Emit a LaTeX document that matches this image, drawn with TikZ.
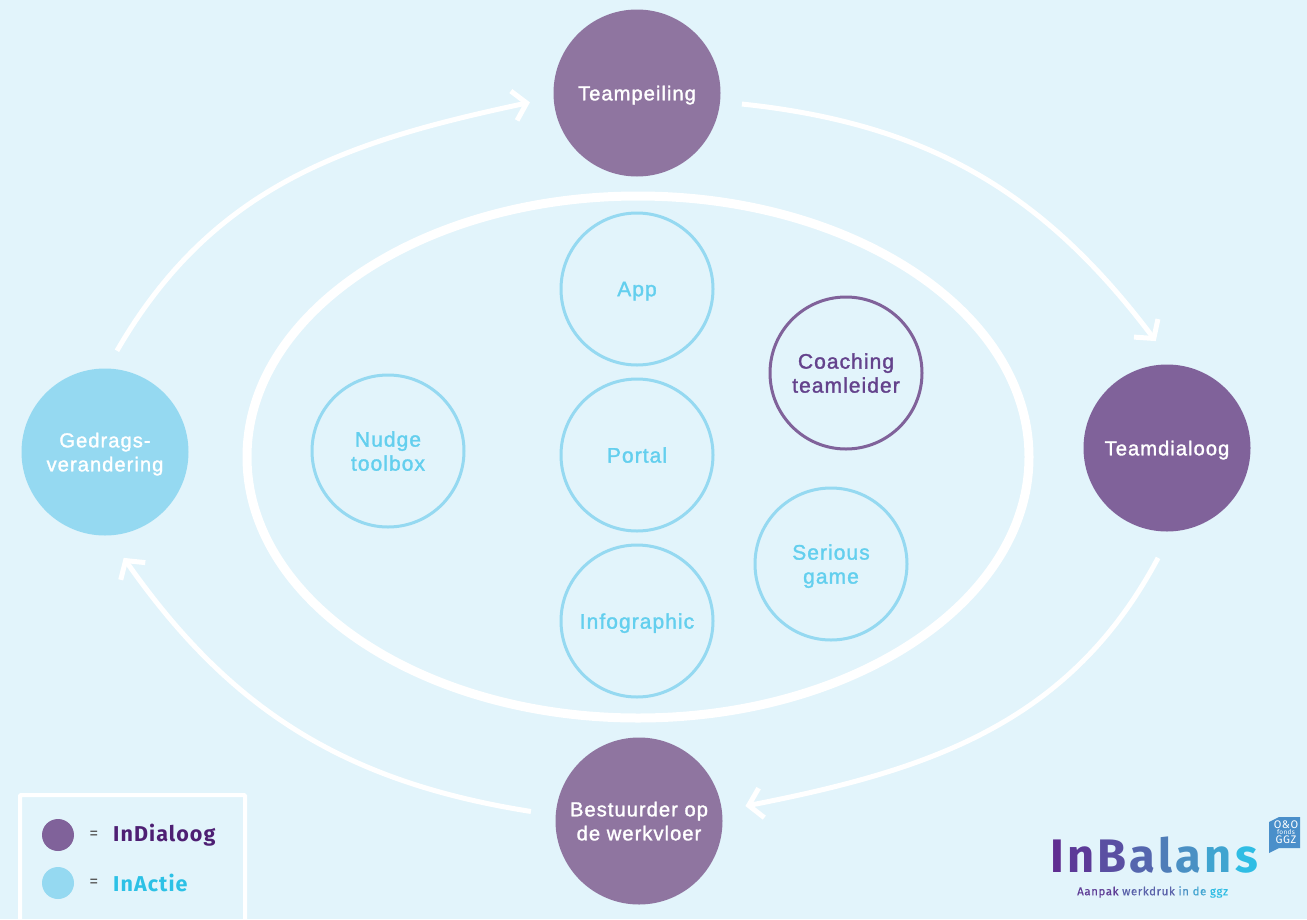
\documentclass[tikz,border=0pt]{standalone}
\usepackage{fontspec}
\setmainfont[FakeBold=1.5,LetterSpace=5]{Liberation Sans}
\newfontfamily\logofont[LetterSpace=5]{Fira Sans}
\newfontfamily\kleinfont[LetterSpace=5,FakeBold=0.3]{Fira Sans}
\usetikzlibrary{arrows.meta,positioning,shapes.geometric}
\definecolor{achtergrond}{HTML}{E2F4FB}
\definecolor{dialoog}{HTML}{8F75A0}
\definecolor{dialoogdonker}{HTML}{80629A}
\definecolor{actie}{HTML}{95D9F1}
\definecolor{actietekst}{HTML}{63CFEE}
\definecolor{coachtekst}{HTML}{64428C}
\definecolor{legendapaars}{HTML}{4E1F73}
\definecolor{legendablauw}{HTML}{2CC1E6}
\definecolor{badge}{HTML}{4A8FCA}
\newcommand{\lgc}[2]{\textcolor[HTML]{#1}{#2}}
\newcommand{\lgk}[2]{\textcolor[HTML]{#1}{#2}\kern3.2pt}

\begin{document}
\begin{tikzpicture}[
    x=1pt, y=-1pt,
    bigcircle/.style={
        circle, fill=dialoog,
        minimum size=167pt,
        inner sep=0pt, outer sep=24pt,
        text=white, align=center, text depth=0pt,
        font=\fontsize{20.2}{24}\selectfont
    },
    tool/.style={
        circle, draw=actie, line width=3pt,
        minimum size=152pt,
        inner sep=0pt,
        text=actietekst, align=center, text depth=0pt,
        font=\fontsize{21}{24}\selectfont
    },
    legdot/.style={circle, minimum size=32pt, inner sep=0pt},
    legtext/.style={anchor=west, inner sep=0pt, font=\logofont\bfseries\fontsize{21.5}{24}\selectfont},
    legeq/.style={inner sep=0pt, text=black!65, font=\logofont\fontsize{18}{20}\selectfont},
    flow/.style={white, line width=5pt, -{Straight Barb[length=13pt,width=30pt]}}
]
\useasboundingbox (0,0) rectangle (1307,919);
\fill[achtergrond] (0,0) rectangle (1307,919);

\node[bigcircle] (teampeiling) at (637,93) {Teampeiling};
\node[bigcircle, fill=dialoogdonker] (teamdialoog) at (1167,448) {Teamdialoog};
\node[bigcircle] (bestuurder) at (639,821) {Bestuurder op\\de werkvloer};
\node[bigcircle, fill=actie] (gedrag) at (105,452) {Gedrags-\\verandering};

\draw[flow, shorten <=-2pt] (teampeiling.-6) to[out=-6, in=127] (teamdialoog.96);
\draw[flow, shorten <=3pt] (teamdialoog.-94) to[out=-118, in=11] (bestuurder.8);
\draw[flow, shorten <=1pt] (bestuurder.175) to[out=171, in=-55] (gedrag.-80);
\draw[flow, shorten <=-6pt] (gedrag.82) to[out=60, in=192] (teampeiling.-175);

\node[ellipse, draw=white, line width=9pt, minimum width=782pt, minimum height=522pt,
    inner sep=0pt] (kern) at (638,457) {};

\node[tool] (portal) at (637,455) {Portal};
\node[tool, above=11pt of portal] (app) {App};
\node[tool, below=11pt of portal] (infographic) {Infographic};
\node[tool] (nudge) at (388,451) {Nudge\\toolbox};
\node[tool] (serious) at (831,564) {Serious\\game};
\node[tool, draw=dialoogdonker, text=coachtekst] (coaching) at (846,373) {Coaching\\teamleider};

% legenda
\node[draw=white, line width=4pt, rounded corners=1pt, minimum width=225pt, minimum height=160pt,
    anchor=north west] (legenda) at (18,793) {};
\node[legdot, fill=dialoogdonker] (dotdialoog) at (58,835) {};
\node[legdot, fill=actie] (dotactie) at (58,883) {};
\node[legeq, right=15pt of dotdialoog] (isdialoog) {=};
\node[legeq, right=15pt of dotactie] (isactie) {=};
\node[legtext, text=legendapaars] (labeldialoog) at (113,835) {InDialoog};
\node[legtext, text=legendablauw] (labelactie) at (113,883) {InActie};

% logo
\node[anchor=west, inner sep=0pt, font=\logofont\bfseries\fontsize{47}{50}\selectfont] (logo) at (1050,855)
    {\lgk{5F2D91}{I}\lgk{5C3A98}{n}\lgk{5A4FA2}{B}\lgk{5566AE}{a}\lgk{4F7DB8}{l}\lgk{4A90C4}{a}\lgk{40A4D0}{n}\lgc{2FBDE4}{s}};
\node[anchor=west, inner sep=0pt, font=\kleinfont\fontsize{11.5}{13}\selectfont] (onderschrift) at (1077,892)
    {\lgc{5F3D96}{Aanpak} \lgc{5A62AA}{werkdruk} \lgc{4A90C4}{in} \lgc{40A4D0}{de} \lgc{2FBDE4}{ggz}};
\fill[badge] (1269,822) -- (1279,817) -- (1300,817) -- (1300,848) -- (1279,848) -- (1269,853) -- cycle;
\node[inner sep=0pt, text=white, align=center, font=\logofont\fontsize{11}{11}\selectfont] (fonds) at (1286,832.5)
    {O\&O\\[-5pt]{\fontsize{6.5}{6.5}\selectfont fonds}\\[-2pt]GGZ};
\end{tikzpicture}
\end{document}
